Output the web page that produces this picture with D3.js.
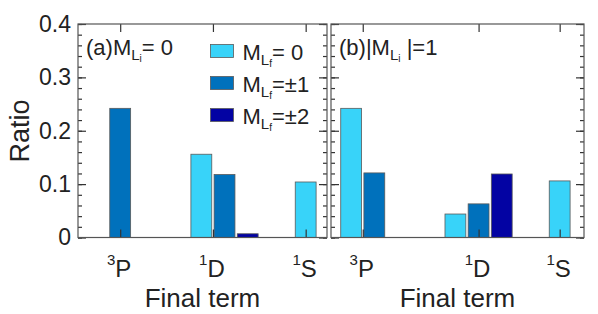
<!DOCTYPE html>
<html>
<head>
<meta charset="utf-8">
<script src="https://cdn.jsdelivr.net/npm/d3@7"></script>
<style>
  body { margin: 0; background: #fff; }
  text { font-family: "Liberation Sans", Arial, sans-serif; fill: #222; }
</style>
</head>
<body>
<svg id="s" width="598" height="314"></svg>
<script>
// final terms: superscript + letter
var termSup = ["3", "1", "1"];
var termLetter = ["P", "D", "S"];
// legend text after "M_Lf"
var seriesLabels = ["= 0", "=\u00b11", "=\u00b12"];
var seriesColors = ["#38d3f9", "#0071bc", "#0303a3"];

// (a) M_Li = 0, values per term for M_Lf = 0, ±1, ±2
var aMl0 = [0, 0.156, 0.104];
var aMl1 = [0.242, 0.118, 0];
var aMl2 = [0, 0.007, 0];
// (b) |M_Li| = 1
var bMl0 = [0.242, 0.044, 0.106];
var bMl1 = [0.121, 0.063, 0];
var bMl2 = [0, 0.119, 0];

// tick place of each term label (in bar-slot units)
var aTermPos = [1, 5, 9];
var bTermPos = [0.5, 5.5, 9];

var yTicks = [0, 0.1, 0.2, 0.3, 0.4];

var svg = d3.select("#s");
var top_ = 24, bottom = 237.5;
var y = d3.scaleLinear().domain([0, 0.4]).range([bottom, top_]);

var groupGap = 4.5;  // slot units between term groups

function panel(left, right, xdom, series, termPos, showY, label) {
    var x = d3.scaleLinear().domain(xdom).range([left, right]);
    var g = svg.append("g");

    var bars = [];
    series.forEach(function(vals, s) {
        vals.forEach(function(v, t) {
            if (v > 0) bars.push({slot: t * groupGap + s, v: v, s: s});
        });
    });
    var bw = x(0.9) - x(0);
    g.selectAll("rect.bar").data(bars).enter().append("rect")
        .attr("class", "bar")
        .attr("x", function(d) { return x(d.slot) - bw / 2; })
        .attr("y", function(d) { return y(d.v); })
        .attr("width", bw)
        .attr("height", function(d) { return y(0) - y(d.v); })
        .attr("fill", function(d) { return seriesColors[d.s]; })
        .attr("stroke", "#5a5a5a")
        .attr("stroke-width", 0.8);

    // y ticks, inside on both sides
    var minor = d3.range(0, 0.4001, 0.02);
    var lAx = d3.axisLeft(y).tickValues(minor).tickSize(-4).tickFormat("");
    var rAx = d3.axisRight(y).tickValues(minor).tickSize(-4).tickFormat("");
    var lMaj = d3.axisLeft(y).tickValues(yTicks).tickSizeInner(-8).tickSizeOuter(0).tickPadding(7)
        .tickFormat(function(d) { return !showY ? "" : d === 0 ? "0" : d3.format(".1f")(d); });
    var rMaj = d3.axisRight(y).tickValues(yTicks).tickSize(-8).tickFormat("");
    [lAx, lMaj].forEach(function(a) {
        g.append("g").attr("transform", "translate(" + left + ",0)").call(a);
    });
    [rAx, rMaj].forEach(function(a) {
        g.append("g").attr("transform", "translate(" + right + ",0)").call(a);
    });
    // x ticks
    g.append("g").attr("transform", "translate(0," + bottom + ")")
        .call(d3.axisBottom(x).tickValues(termPos).tickSize(-8).tickFormat(""));
    g.append("g").attr("transform", "translate(0," + top_ + ")")
        .call(d3.axisTop(x).tickValues(termPos).tickSize(-8).tickFormat(""));

    g.selectAll(".domain").remove();
    g.selectAll(".tick line").attr("stroke", "#333").attr("stroke-width", 1.2);
    g.selectAll(".tick text").attr("font-size", 23).attr("fill", "#222")
        .attr("font-family", "Liberation Sans, Arial, sans-serif");

    g.append("rect").attr("x", left).attr("y", top_)
        .attr("width", right - left).attr("height", bottom - top_)
        .attr("fill", "none").attr("stroke", "#555").attr("stroke-width", 1.2);

    // term labels
    termPos.forEach(function(p, i) {
        var t = g.append("text").attr("x", x(p) - 1).attr("y", 277)
            .attr("text-anchor", "middle").attr("font-size", 24);
        t.append("tspan").attr("font-size", 15).attr("dy", -12).text(termSup[i]);
        t.append("tspan").attr("dy", 12).text(termLetter[i]);
    });

    g.append("text").attr("x", (left + right) / 2).attr("y", 307)
        .attr("text-anchor", "middle").attr("font-size", 26).text("Final term");

    // panel label
    var pl = g.append("text").attr("x", left + 8).attr("y", 55).attr("font-size", 22);
    label(pl);
    return x;
}

panel(78, 327, [-0.82, 9.92], [aMl0, aMl1, aMl2], aTermPos, true, function(t) {
    t.append("tspan").text("(a)M");
    t.append("tspan").attr("font-size", 15).attr("dy", 5).text("L");
    t.append("tspan").attr("font-size", 10).attr("dy", 2).text("i");
    t.append("tspan").attr("dy", -7).text("= 0");
});
panel(331, 584, [-0.87, 10.05], [bMl0, bMl1, bMl2], bTermPos, false, function(t) {
    t.append("tspan").text("(b)|M");
    t.append("tspan").attr("font-size", 15).attr("dy", 5).text("L");
    t.append("tspan").attr("font-size", 10).attr("dy", 2).text("i");
    t.append("tspan").attr("dy", -7).text(" |=1");
});

// legend
var leg = svg.append("g").selectAll("g").data(seriesLabels).enter().append("g")
    .attr("transform", function(d, i) { return "translate(210.5," + (44.5 + i * 32) + ")"; });
leg.append("rect").attr("width", 23).attr("height", 13)
    .attr("fill", function(d, i) { return seriesColors[i]; })
    .attr("stroke", "#5a5a5a").attr("stroke-width", 0.8);
leg.append("text").attr("x", 32).attr("y", 15.5).attr("font-size", 22)
    .each(function(d) {
        var t = d3.select(this);
        t.append("tspan").text("M");
        t.append("tspan").attr("font-size", 15).attr("dy", 5).text("L");
        t.append("tspan").attr("font-size", 10).attr("dy", 2).text("f");
        t.append("tspan").attr("dy", -7).text(d);
    });

// y label
svg.append("text").attr("transform", "translate(29,131) rotate(-90)")
    .attr("text-anchor", "middle").attr("font-size", 27).text("Ratio");
</script>
</body>
</html>
